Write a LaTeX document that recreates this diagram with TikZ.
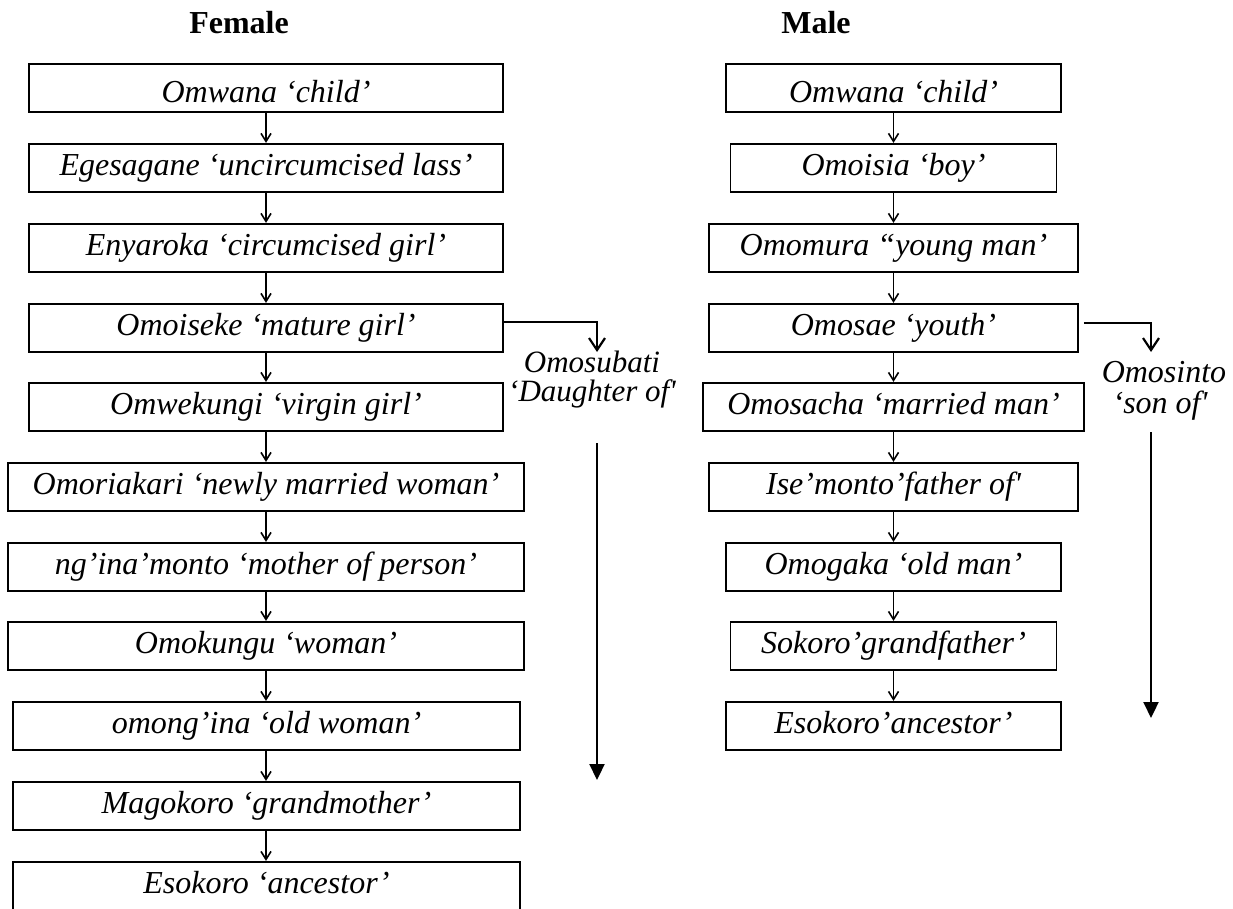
\documentclass[tikz,border=0pt]{standalone}
\usepackage{fontspec}
\setmainfont{Liberation Serif}
\usetikzlibrary{arrows.meta}
\begin{document}
\begin{tikzpicture}[x=1pt,y=-1pt,
  stage/.style={draw, line width=1.7pt, inner sep=0pt, minimum height=48.5pt,
    font=\fontsize{32}{38}\selectfont\itshape, text height=22.4pt, text depth=7.2pt},
  firststage/.style={stage, text height=32pt, text depth=2.9pt},
  title/.style={font=\fontsize{32}{38}\selectfont\bfseries, inner sep=0pt, anchor=base},
  sidelabel/.style={inner sep=0pt, anchor=base},
  chain/.style={line width=1.6pt, -{Straight Barb[length=8pt,width=10pt]}},
  branch/.style={line width=2.2pt, -{Straight Barb[length=12pt,width=16pt]}},
  span/.style={line width=2.2pt, -{Triangle[length=16pt,width=15pt]}}]
\useasboundingbox (0,0) rectangle (1233,908);

% column headings
\node[title] (fhead) at (239,33) {Female};
\node[title] (mhead) at (816,33) {Male};

% female stages
\node[firststage, minimum width=474pt] (f1)  at (266,88)  {Omwana ‘child’};
\node[stage, minimum width=474pt]      (f2)  at (266,168) {Egesagane ‘uncircumcised lass’};
\node[stage, minimum width=474pt]      (f3)  at (266,248) {Enyaroka ‘circumcised girl’};
\node[stage, minimum width=474pt]      (f4)  at (266,328) {Omoiseke ‘mature girl’};
\node[stage, minimum width=474pt]      (f5)  at (266,407) {Omwekungi ‘virgin girl’};
\node[stage, minimum width=516pt]      (f6)  at (266,487) {Omoriakari ‘newly married woman’};
\node[stage, minimum width=516pt]      (f7)  at (266,567) {ng’ina’monto ‘mother of person’};
\node[stage, minimum width=516pt]      (f8)  at (266,646) {Omokungu ‘woman’};
\node[stage, minimum width=507pt]      (f9)  at (266.5,726) {omong’ina ‘old woman’};
\node[stage, minimum width=507pt]      (f10) at (266.5,806) {Magokoro ‘grandmother’};
\node[stage, minimum width=507pt]      (f11) at (266.5,886) {Esokoro ‘ancestor’};

\foreach \a/\b in {f1/f2,f2/f3,f3/f4,f4/f5,f5/f6,f6/f7,f7/f8,f8/f9,f9/f10,f10/f11}
  \draw[chain] (\a.south -| f1.south) -- (\b.north -| f1.south);

% male stages
\node[firststage, minimum width=335pt] (m1) at (893.5,88)  {Omwana ‘child’};
\node[stage, minimum width=326pt]      (m2) at (893.5,168) {Omoisia ‘boy’};
\node[stage, minimum width=369pt]      (m3) at (893.5,248) {Omomura “young man’};
\node[stage, minimum width=369pt]      (m4) at (893.5,328) {Omosae ‘youth’};
\node[stage, minimum width=381pt]      (m5) at (893.5,407) {Omosacha ‘married man’};
\node[stage, minimum width=369pt]      (m6) at (893.5,487) {Ise’monto’father of\textquotesingle};
\node[stage, minimum width=335pt]      (m7) at (893.5,567) {Omogaka ‘old man’};
\node[stage, minimum width=326pt]      (m8) at (893.5,646) {Sokoro’grandfather’};
\node[stage, minimum width=335pt]      (m9) at (893.5,726) {Esokoro’ancestor’};

\foreach \a/\b in {m1/m2,m2/m3,m3/m4,m4/m5,m5/m6,m6/m7,m7/m8,m8/m9}
  \draw[chain] (\a.south) -- (\b.north);

% female kinship term with its span
\node[sidelabel, font=\fontsize{31}{36}\selectfont\itshape] (fsub1) at (592,372) {Omosubati};
\node[sidelabel, font=\fontsize{31}{36}\selectfont\itshape] (fsub2) at (592,401) {‘Daughter of\textquotesingle};
\coordinate (ftip) at (597,352);
\coordinate (fstart) at (597,443);
\coordinate (fend) at (597,780);
\draw[branch] ([yshift=6pt]f4.east) -| (ftip);
\draw[span] (fstart) -- (fend);

% male kinship term with its span
\node[sidelabel, font=\fontsize{32}{38}\selectfont\itshape] (msub1) at (1164,382) {Omosinto};
\node[sidelabel, font=\fontsize{32}{38}\selectfont\itshape] (msub2) at (1160,413) {‘son of\textquotesingle};
\coordinate (mtip) at (1151,352);
\coordinate (mstart) at (1151,432);
\coordinate (mend) at (1151,718);
\draw[branch] ([xshift=5pt,yshift=5pt]m4.east) -| (mtip);
\draw[span] (mstart) -- (mend);
\end{tikzpicture}
\end{document}
